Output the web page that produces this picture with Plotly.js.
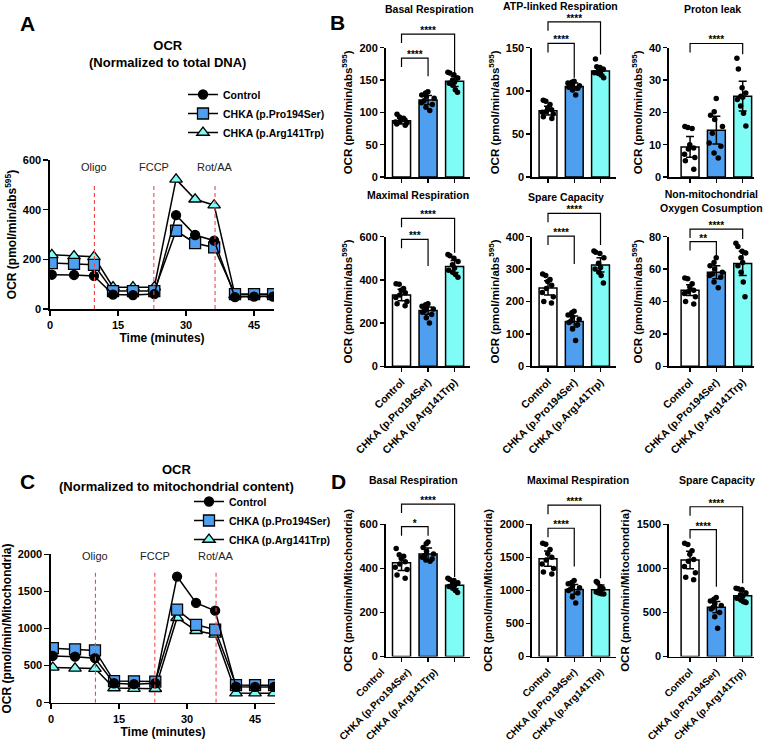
<!DOCTYPE html>
<html>
<head>
<meta charset="utf-8">
<script src="https://cdn.plot.ly/plotly-3.0.1.min.js"></script>
<style>html,body{margin:0;padding:0;background:#fff}</style>
</head>
<body>
<div id="chart" style="width:764px;height:744px"></div>
<script>
// ---------- Time course (panels A and C) ----------
const timeMin = [0.4, 5.3, 9.7, 13.9, 18.3, 23.0, 27.8, 32.0, 36.2, 40.8, 45.0, 49.2];
const injectionTimes = [9.8, 22.9, 36.4];
const injectionNames = ['Oligo', 'FCCP', 'Rot/AA'];
const groups = ['Control', 'CHKA (p.Pro194Ser)', 'CHKA (p.Arg141Trp)'];

// OCR normalized to total DNA (pmol/min/abs595)
const dnaControl = [138, 137, 133, 58, 56, 60, 378, 298, 275, 48, 50, 50];
const dnaPro     = [185, 182, 178, 72, 72, 72, 315, 265, 248, 60, 60, 60];
const dnaArg     = [218, 213, 210, 88, 88, 88, 522, 442, 418, 57, 57, 57];

// OCR normalized to mitochondrial content (pmol/min/Mitochondria)
const mitoControl = [630, 620, 600, 262, 250, 262, 1700, 1345, 1240, 215, 212, 212];
const mitoPro     = [735, 720, 705, 292, 288, 285, 1255, 1050, 985, 238, 236, 236];
const mitoArg     = [475, 462, 460, 198, 190, 188, 1145, 970, 920, 130, 128, 128];

// ---------- Bar summaries (mean, error, replicates) ----------
const basalDnaMean = [87, 119, 148];
const basalDnaErr  = [5, 7, 8];
const basalDnaCtrl = [97, 93, 91, 89, 88, 86, 85, 84, 82, 80];
const basalDnaPro  = [132, 130, 127, 125, 122, 118, 115, 112, 108, 103];
const basalDnaArg  = [162, 161, 158, 153, 150, 147, 145, 142, 135, 131];

const atpDnaMean = [77, 105, 123];
const atpDnaErr  = [5, 4, 4];
const atpDnaCtrl = [89, 88, 84, 80, 78, 76, 75, 73, 70, 68];
const atpDnaPro  = [111, 110, 109, 107, 106, 105, 104, 103, 101, 95];
const atpDnaArg  = [137, 128, 127, 125, 124, 122, 121, 120, 118, 115];

const leakDnaMean = [9.3, 14.5, 25];
const leakDnaErr  = [3.2, 4.3, 4.6];
const leakDnaCtrl = [15.6, 15.3, 15.0, 10.0, 9.0, 8.7, 7.0, 6.0, 5.0, 2.4];
const leakDnaPro  = [24.3, 20.2, 19.1, 17.8, 15.6, 13.5, 10.5, 9.5, 7.4, 5.9];
const leakDnaArg  = [36.7, 33.4, 27.6, 26, 25, 24.7, 24, 22, 19.7, 15.8];

const maxDnaMean = [330, 258, 462];
const maxDnaErr  = [27, 17, 28];
const maxDnaCtrl = [382, 380, 360, 352, 340, 330, 318, 300, 290, 280];
const maxDnaPro  = [290, 285, 278, 272, 265, 258, 250, 240, 225, 200];
const maxDnaArg  = [518, 512, 500, 485, 470, 455, 445, 435, 425, 412];

const spareDnaMean = [242, 138, 313];
const spareDnaErr  = [22, 17, 22];
const spareDnaCtrl = [285, 280, 268, 262, 250, 240, 228, 215, 200, 195];
const spareDnaPro  = [170, 165, 158, 152, 145, 140, 135, 128, 115, 80];
const spareDnaArg  = [356, 352, 348, 335, 318, 305, 300, 290, 280, 257];

const nonMitoDnaMean = [47, 58, 63.5];
const nonMitoDnaErr  = [3.3, 4, 7.5];
const nonMitoDnaCtrl = [54.5, 54, 51, 49, 47, 46, 45, 43, 40, 38.5];
const nonMitoDnaPro  = [67, 64, 62, 60, 58, 57, 56, 55, 52, 48.5];
const nonMitoDnaArg  = [76, 74, 71, 70, 67, 64, 62, 58, 52, 43];

const basalMitoMean = [425, 465, 323];
const basalMitoErr  = [35, 27, 15];
const basalMitoCtrl = [490, 462, 455, 445, 430, 420, 405, 395, 370, 355];
const basalMitoPro  = [520, 512, 495, 478, 465, 458, 450, 443, 438, 432];
const basalMitoArg  = [355, 350, 345, 335, 330, 322, 318, 310, 300, 290];

const maxMitoMean = [1480, 1015, 1010];
const maxMitoErr  = [115, 75, 70];
const maxMitoCtrl = [1715, 1700, 1620, 1560, 1500, 1460, 1400, 1330, 1280, 1250];
const maxMitoPro  = [1150, 1120, 1100, 1070, 1040, 1020, 1000, 960, 900, 810];
const maxMitoArg  = [1135, 1120, 1060, 1030, 1000, 990, 975, 960, 950, 945];

const spareMitoMean = [1095, 560, 690];
const spareMitoErr  = [100, 65, 50];
const spareMitoCtrl = [1285, 1270, 1200, 1160, 1100, 1080, 1020, 950, 900, 870];
const spareMitoPro  = [670, 650, 630, 600, 580, 560, 540, 500, 450, 320];
const spareMitoArg  = [775, 770, 760, 720, 700, 680, 660, 640, 620, 612];

// ---------- Page geometry helpers ----------
const W = 764, H = 744;
const fx = p => p / W;
const fy = p => 1 - p / H;
const FONT = 'Arial, "Liberation Sans", sans-serif';
const bold = size => ({family: FONT, size: size, color: '#000', weight: 'bold'});

const barColors = ['#ffffff', '#4f9ff0', '#7ffcf5'];
const dnaTitle = 'OCR (pmol/min/abs<sup>595</sup>)';
const mitoTitle = 'OCR (pmol/min/Mitochondria)';

const traces = [];
const layout = {
  width: W, height: H,
  margin: {l: 0, r: 0, t: 0, b: 0},
  paper_bgcolor: '#ffffff',
  plot_bgcolor: 'rgba(0,0,0,0)',
  font: {family: FONT, color: '#000'},
  showlegend: true,
  annotations: [],
  shapes: []
};

function axisBase() {
  return {
    showline: true, linecolor: '#000', linewidth: 1.6,
    ticks: 'outside', ticklen: 4, tickwidth: 1.5, tickcolor: '#000',
    showgrid: false, zeroline: false, fixedrange: true
  };
}

function label(text, x, y, font, extra) {
  layout.annotations.push(Object.assign({
    text: text, x: fx(x), y: fy(y), xref: 'paper', yref: 'paper',
    showarrow: false, xanchor: 'center', yanchor: 'middle', font: font
  }, extra || {}));
}

// ---------- Time-course panels ----------
const seriesStyle = [
  {symbol: 'circle', size: 9, color: '#000000'},
  {symbol: 'square', size: 11, color: '#4f9ff0'},
  {symbol: 'triangle-up', size: 11, color: '#7ffcf5'}
];

function timeCourse(n, values, spec) {
  const xa = n === 1 ? 'x' : 'x' + n;
  const ya = n === 1 ? 'y' : 'y' + n;
  const legendId = n === 1 ? 'legend' : 'legend' + n;
  // drawn back to front: Arg141Trp, Pro194Ser, Control
  [2, 1, 0].forEach(i => {
    traces.push({
      type: 'scatter', mode: 'lines+markers',
      x: timeMin, y: values[i], name: groups[i],
      xaxis: xa, yaxis: ya, legend: legendId, legendrank: i + 1,
      line: {color: '#000', width: 1.5},
      marker: {symbol: seriesStyle[i].symbol, size: seriesStyle[i].size,
               color: seriesStyle[i].color, line: {color: '#000', width: 1.3}},
      hoverinfo: 'skip'
    });
  });
  const xKey = n === 1 ? 'xaxis' : 'xaxis' + n;
  const yKey = n === 1 ? 'yaxis' : 'yaxis' + n;
  layout[xKey] = Object.assign(axisBase(), {
    domain: [fx(spec.x0), fx(spec.x1)], range: [0, 49.4], anchor: ya,
    tickvals: [0, 15, 30, 45], ticklen: 5, tickfont: bold(11),
    title: {text: 'Time (minutes)', font: bold(12), standoff: 4}
  });
  layout[yKey] = Object.assign(axisBase(), {
    domain: [fy(spec.bot), fy(spec.top)], range: [0, spec.ymax], dtick: spec.dtick,
    anchor: xa, ticklen: 5, tickfont: bold(11),
    title: {text: spec.ytitle, font: bold(12), standoff: 3}
  });
  injectionTimes.forEach((t, k) => {
    layout.shapes.push({type: 'line', xref: xa, yref: ya, x0: t, x1: t, y0: 0, y1: spec.lineTop,
      line: {color: '#f0494c', width: 1.1, dash: '4px,3px'}});
    layout.annotations.push({text: injectionNames[k], xref: xa, yref: ya, x: t, y: spec.labelY,
      showarrow: false, xanchor: 'center', yanchor: 'middle',
      font: {family: FONT, size: 11, color: '#222'}});
  });
  layout[legendId] = {
    x: fx(spec.legX), y: fy(spec.legY), xanchor: 'left', yanchor: 'top',
    bgcolor: 'rgba(0,0,0,0)', font: bold(10.5), itemclick: false, itemdoubleclick: false
  };
  label(spec.title, spec.titleX, spec.titleY, bold(13));
}

timeCourse(1, [dnaControl, dnaPro, dnaArg], {
  x0: 50, x1: 274, top: 160, bot: 309, ymax: 600, dtick: 200, ytitle: dnaTitle,
  lineTop: 505, labelY: 573, legX: 183, legY: 80,
  title: 'OCR<br>(Normalized to total DNA)', titleX: 167, titleY: 54
});
timeCourse(2, [mitoControl, mitoPro, mitoArg], {
  x0: 51, x1: 275, top: 554.3, bot: 702.7, ymax: 2000, dtick: 500, ytitle: mitoTitle,
  lineTop: 1750, labelY: 1975, legX: 189, legY: 487,
  title: 'OCR<br>(Normalized to mitochondrial content)', titleX: 176, titleY: 478
});

// ---------- Bar panels ----------
const cols = [
  {x0: 385.6, x1: 470, r: [-0.6, 2.58]},
  {x0: 532, x1: 616, r: [-0.61, 2.59]},
  {x0: 669, x1: 754, r: [-0.8, 2.43]}
];
const rows = [
  {top: 47.7, bot: 177, labels: false, tickSize: 10.5},
  {top: 236.7, bot: 366.3, labels: true, tickSize: 10.5},
  {top: 524.3, bot: 656.5, labels: true, tickSize: 10}
];

// bracket: [from, to, stars, height, right-leg end]
const barPanels = [
  {row: 0, col: 0, title: 'Basal Respiration', tx: 429, ty: 9, mean: basalDnaMean, err: basalDnaErr,
   pts: [basalDnaCtrl, basalDnaPro, basalDnaArg], ymax: 200, dtick: 50, ytitle: dnaTitle,
   brackets: [[0, 1, '****', 184, 156], [0, 2, '****', 221, 161]]},
  {row: 0, col: 1, title: 'ATP-linked Respiration', tx: 560, ty: 6, mean: atpDnaMean, err: atpDnaErr,
   pts: [atpDnaCtrl, atpDnaPro, atpDnaArg], ymax: 150, dtick: 50, ytitle: dnaTitle,
   brackets: [[0, 1, '****', 155, 115], [0, 2, '****', 180, 142]]},
  {row: 0, col: 2, title: 'Proton leak', tx: 712, ty: 9, mean: leakDnaMean, err: leakDnaErr,
   pts: [leakDnaCtrl, leakDnaPro, leakDnaArg], ymax: 40, dtick: 10, ytitle: dnaTitle,
   brackets: [[0, 2, '****', 41.3, 38]]},
  {row: 1, col: 0, title: 'Maximal Respiration', tx: 418, ty: 195, mean: maxDnaMean, err: maxDnaErr,
   pts: [maxDnaCtrl, maxDnaPro, maxDnaArg], ymax: 600, dtick: 200, ytitle: dnaTitle,
   brackets: [[0, 1, '***', 588, 464], [0, 2, '****', 685, 526]]},
  {row: 1, col: 1, title: 'Spare Capacity', tx: 566, ty: 197, mean: spareDnaMean, err: spareDnaErr,
   pts: [spareDnaCtrl, spareDnaPro, spareDnaArg], ymax: 400, dtick: 100, ytitle: dnaTitle,
   brackets: [[0, 1, '****', 402, 316], [0, 2, '****', 472, 374]]},
  {row: 1, col: 2, title: 'Non-mitochondrial<br>Oxygen Cosumption', tx: 711, ty: 201, mean: nonMitoDnaMean, err: nonMitoDnaErr,
   pts: [nonMitoDnaCtrl, nonMitoDnaPro, nonMitoDnaArg], ymax: 80, dtick: 20, ytitle: dnaTitle,
   brackets: [[0, 1, '**', 77, 67], [0, 2, '****', 84.7, 78.6]]},
  {row: 2, col: 0, title: 'Basal Respiration', tx: 413, ty: 480, mean: basalMitoMean, err: basalMitoErr,
   pts: [basalMitoCtrl, basalMitoPro, basalMitoArg], ymax: 600, dtick: 200, ytitle: mitoTitle,
   labelShift: -20,
   brackets: [[0, 1, '*', 589, 548], [0, 2, '****', 692, 361]]},
  {row: 2, col: 1, title: 'Maximal Respiration', tx: 578, ty: 480, mean: maxMitoMean, err: maxMitoErr,
   pts: [maxMitoCtrl, maxMitoPro, maxMitoArg], ymax: 2000, dtick: 500, ytitle: mitoTitle,
   brackets: [[0, 1, '****', 1940, 1360], [0, 2, '****', 2290, 1184]]},
  {row: 2, col: 2, title: 'Spare Capacity', tx: 717, ty: 480, mean: spareMitoMean, err: spareMitoErr,
   pts: [spareMitoCtrl, spareMitoPro, spareMitoArg], ymax: 1500, dtick: 500, ytitle: mitoTitle,
   brackets: [[0, 1, '****', 1440, 792], [0, 2, '****', 1699, 830]]}
];

const EXTRA = 44; // room above each bar panel for the comparison brackets (px)

barPanels.forEach((p, k) => {
  const n = k + 3;              // visible axes
  const nb = k + 3 + barPanels.length; // overlay axis for brackets
  const xa = 'x' + n, ya = 'y' + n, yb = 'y' + nb;
  const c = cols[p.col], r = rows[p.row];
  const hPx = r.bot - r.top;
  const unitPerPx = p.ymax / hPx;

  layout['xaxis' + n] = Object.assign(axisBase(), {
    domain: [fx(c.x0), fx(c.x1)], range: c.r, anchor: ya,
    tickvals: [0, 1, 2], ticktext: groups, showticklabels: r.labels,
    tickangle: -45, tickfont: bold(r.tickSize), ticklabelshift: p.labelShift || 0
  });
  layout['yaxis' + n] = Object.assign(axisBase(), {
    domain: [fy(r.bot), fy(r.top)], range: [0, p.ymax], dtick: p.dtick, anchor: xa,
    tickfont: bold(11), title: {text: p.ytitle, font: bold(11.5), standoff: 4}
  });
  layout['yaxis' + nb] = {
    domain: [fy(r.bot), fy(r.top - EXTRA)], range: [0, p.ymax * (hPx + EXTRA) / hPx],
    anchor: xa, visible: false, fixedrange: true
  };

  traces.push({
    type: 'bar', x: [0, 1, 2], y: p.mean, width: 0.68, xaxis: xa, yaxis: ya,
    marker: {color: barColors, line: {color: '#000', width: 1.5}},
    showlegend: false, hoverinfo: 'skip'
  });
  const bx = [], by = [];
  p.pts.forEach((arr, gi) => arr.forEach(v => { bx.push(gi); by.push(v); }));
  traces.push({
    type: 'box', x: bx, y: by, xaxis: xa, yaxis: ya,
    boxpoints: 'all', jitter: 1, pointpos: 0, width: 0.56,
    fillcolor: 'rgba(0,0,0,0)', line: {color: 'rgba(0,0,0,0)', width: 0},
    marker: {color: '#000', size: 5.5}, showlegend: false, hoverinfo: 'skip'
  });
  traces.push({
    type: 'scatter', mode: 'markers', x: [0, 1, 2], y: p.mean, xaxis: xa, yaxis: ya,
    marker: {size: 1, opacity: 0},
    error_y: {type: 'data', array: p.err, color: '#000', thickness: 1.5, width: 4},
    showlegend: false, hoverinfo: 'skip'
  });

  p.brackets.forEach(b => {
    const [i, j, stars, top, rightEnd] = b;
    const leftEnd = top - 9 * unitPerPx;
    traces.push({
      type: 'scatter', mode: 'lines', x: [i, i, j, j], y: [leftEnd, top, top, rightEnd],
      xaxis: xa, yaxis: yb, line: {color: '#000', width: 1.2},
      showlegend: false, hoverinfo: 'skip'
    });
    traces.push({
      type: 'scatter', mode: 'text', x: [(i + j) / 2], y: [top + 2.5 * unitPerPx], text: [stars],
      textposition: 'middle center', textfont: bold(10), cliponaxis: false,
      xaxis: xa, yaxis: yb, showlegend: false, hoverinfo: 'skip'
    });
  });

  label(p.title, p.tx, p.ty, bold(10.5));
});

// Panel letters
label('A', 28, 24, bold(21));
label('B', 337, 23, bold(21));
label('C', 27, 481, bold(21));
label('D', 338, 481, bold(21));

Plotly.newPlot('chart', traces, layout, {displayModeBar: false, staticPlot: true});
</script>
</body>
</html>
